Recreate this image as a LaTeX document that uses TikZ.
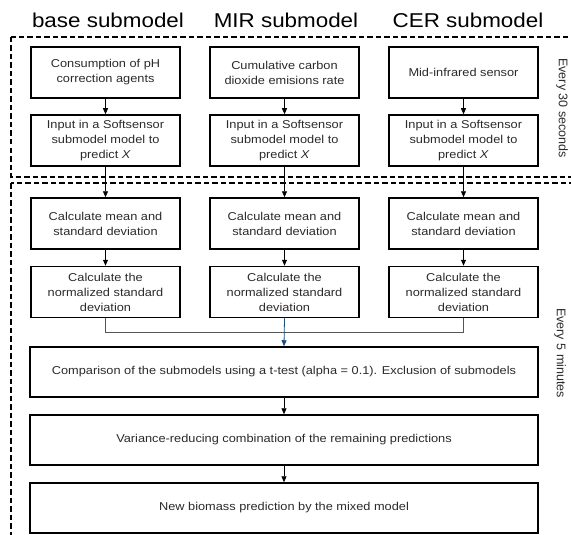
\documentclass[tikz,border=0pt]{standalone}
\usepackage{fontspec}
\setmainfont{Liberation Sans}[FakeStretch=1.12]
\newfontfamily\vfont{Liberation Sans}
\usetikzlibrary{arrows.meta}
\definecolor{txt}{HTML}{2A2A2A}
\definecolor{bline}{HTML}{1F4E79}
\definecolor{gline}{HTML}{555555}
\begin{document}
\begin{tikzpicture}[x=1pt,y=-1pt,
  box/.style={draw=black,line width=1.5pt,minimum width=149pt,minimum height=51pt,align=center,inner sep=2pt,font=\fontsize{11.4}{15}\selectfont,text=txt},
  wide/.style={box,minimum width=508pt,minimum height=50pt},
  arr/.style={-{Triangle[length=6pt,width=5pt]},line width=0.8pt},
  frame/.style={dash pattern=on 5.5pt off 3pt,line width=1.6pt},
  title/.style={font=\fontsize{20}{24}\selectfont,anchor=base},
  side/.style={font=\vfont\fontsize{12.5}{15}\selectfont,rotate=-90,text=txt}]
\useasboundingbox (0,0) rectangle (571,535);
\begin{scope}
  \clip (0,0) rectangle (571,535);
  \draw[frame] (11,37) rectangle (600,177);
  \draw[frame] (11,183) rectangle (600,560);
\end{scope}
% titles
\node[title] (t1) at (108,27.5) {base submodel};
\node[title] (t2) at (286,27.5) {MIR submodel};
\node[title] (t3) at (468,27.5) {CER submodel};
% row 1
\node[box] (a1) at (105.5,72.5) {Consumption of pH\\correction agents};
\node[box] (b1) at (284.5,72.5) {Cumulative carbon\\dioxide emisions rate};
\node[box] (c1) at (463.5,72.5) {Mid-infrared sensor};
% row 2
\node[box] (a2) at (105.5,140.5) {Input in a Softsensor\\submodel model to\\predict \textit{X}};
\node[box] (b2) at (284.5,140.5) {Input in a Softsensor\\submodel model to\\predict \textit{X}};
\node[box] (c2) at (463.5,140.5) {Input in a Softsensor\\submodel model to\\predict \textit{X}};
% row 3
\node[box] (a3) at (105.5,223.5) {Calculate mean and\\standard deviation};
\node[box] (b3) at (284.5,223.5) {Calculate mean and\\standard deviation};
\node[box] (c3) at (463.5,223.5) {Calculate mean and\\standard deviation};
% row 4
\node[box] (a4) at (105.5,292) {Calculate the\\normalized standard\\deviation};
\node[box] (b4) at (284.5,292) {Calculate the\\normalized standard\\deviation};
\node[box] (c4) at (463.5,292) {Calculate the\\normalized standard\\deviation};
% wide boxes
\node[wide] (cmp) at (284,372) {Comparison of the submodels using a t-test (alpha = 0.1). Exclusion of submodels};
\node[wide] (var) at (284,440) {Variance-reducing combination of the remaining predictions};
\node[wide] (new) at (284,508) {New biomass prediction by the mixed model};
% side labels
\node[side] (s1) at (562,108) {Every 30 seconds};
\node[side] (s2) at (560,353) {Every 5 minutes};
% arrows
\foreach \c in {a,b,c}{
  \draw[arr] (\c1.south) -- (\c2.north);
  \draw[arr] (\c2.south) -- (\c3.north);
  \draw[arr] (\c3.south) -- (\c4.north);
}
\coordinate (m) at (284.5,332);
\draw[gline,line width=0.8pt] (a4.south) |- (m);
\draw[gline,line width=0.8pt] (c4.south) |- (m);
\draw[arr,bline] (b4.south) -- (cmp.north);
\draw[arr] (cmp.south) -- (var.north);
\draw[arr] (var.south) -- (new.north);
\end{tikzpicture}
\end{document}
